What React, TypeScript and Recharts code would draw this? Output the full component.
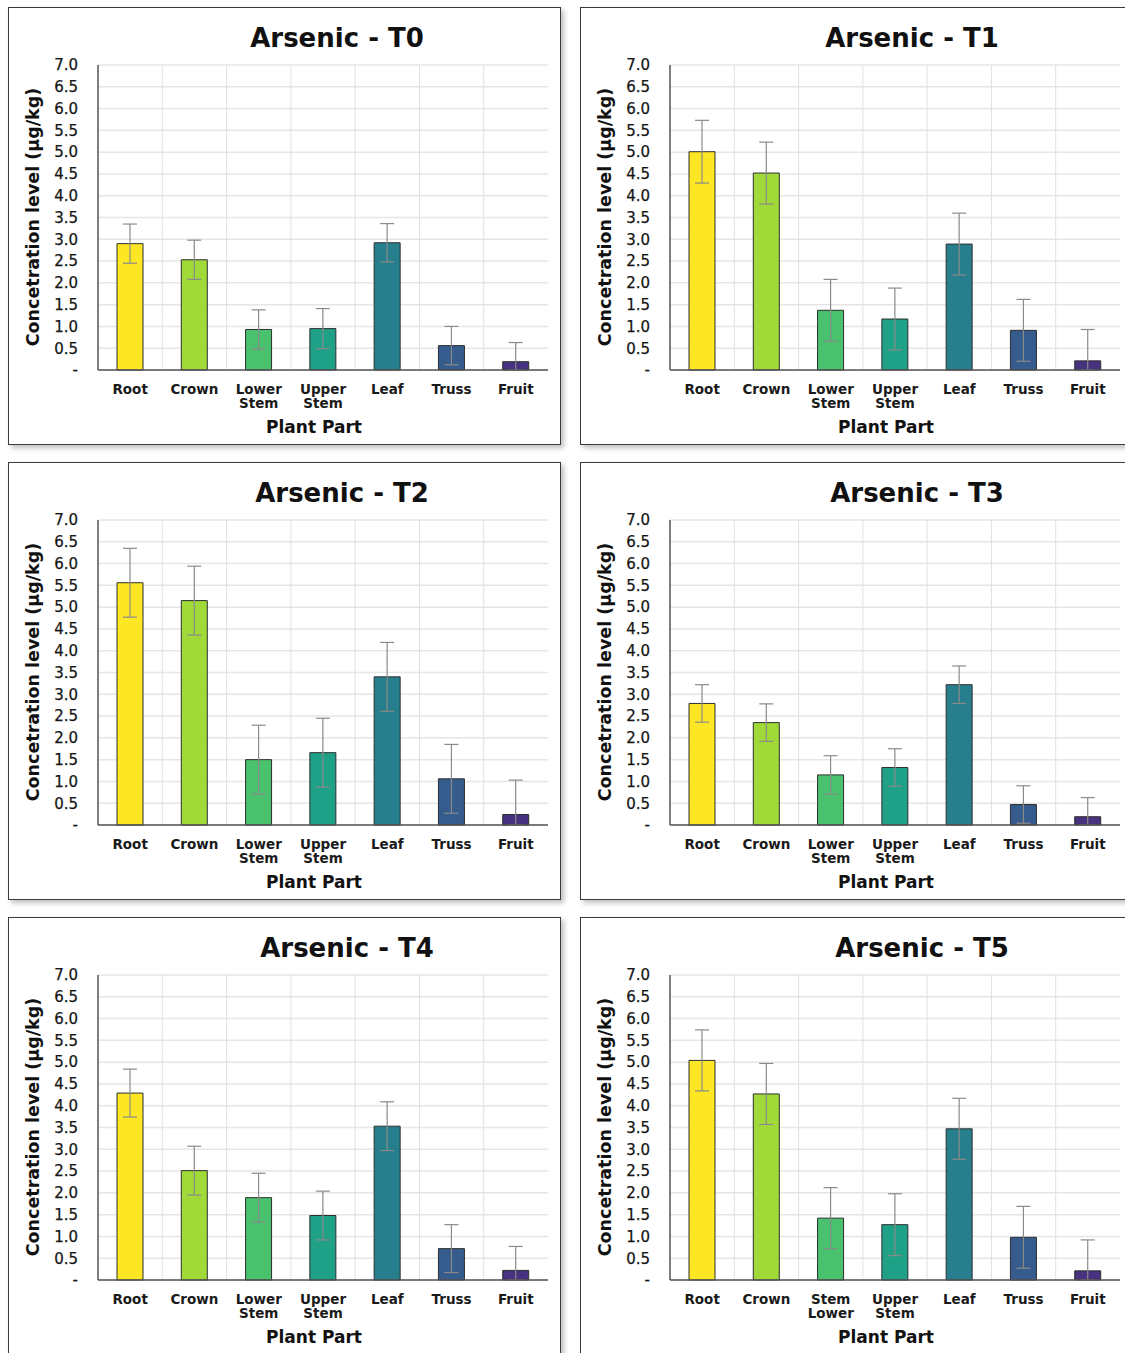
import React from 'react';
import { BarChart, Bar, Cell, XAxis, YAxis, CartesianGrid, ErrorBar } from 'recharts';

const PARTS = ['Root', 'Crown', 'Lower\nStem', 'Upper\nStem', 'Leaf', 'Truss', 'Fruit'];
const PARTS_T5 = ['Root', 'Crown', 'Stem\nLower', 'Upper\nStem', 'Leaf', 'Truss', 'Fruit'];
const Y_TICKS = [0, 0.5, 1, 1.5, 2, 2.5, 3, 3.5, 4, 4.5, 5, 5.5, 6, 6.5, 7];
const PART_COLORS = ['#fde725', '#a0da39', '#4ac16d', '#1fa187', '#277f8e', '#365c8d', '#46327e'];

const T0_VALUES = [2.9, 2.53, 0.93, 0.95, 2.92, 0.56, 0.19];
const T0_ERRORS = [0.45, 0.45, 0.45, 0.46, 0.44, 0.44, 0.44];
const T1_VALUES = [5.01, 4.52, 1.37, 1.17, 2.89, 0.91, 0.21];
const T1_ERRORS = [0.72, 0.71, 0.71, 0.71, 0.71, 0.71, 0.72];
const T2_VALUES = [5.56, 5.15, 1.5, 1.66, 3.4, 1.06, 0.24];
const T2_ERRORS = [0.79, 0.79, 0.79, 0.79, 0.79, 0.79, 0.79];
const T3_VALUES = [2.79, 2.35, 1.15, 1.32, 3.22, 0.47, 0.19];
const T3_ERRORS = [0.43, 0.43, 0.44, 0.43, 0.43, 0.43, 0.44];
const T4_VALUES = [4.29, 2.51, 1.89, 1.48, 3.53, 0.72, 0.22];
const T4_ERRORS = [0.55, 0.56, 0.56, 0.56, 0.56, 0.55, 0.55];
const T5_VALUES = [5.04, 4.27, 1.42, 1.27, 3.47, 0.98, 0.21];
const T5_ERRORS = [0.7, 0.7, 0.7, 0.71, 0.7, 0.71, 0.71];

const FONT = '"DejaVu Sans", sans-serif';
const W = 553;
const H = 438;

const PartTick = (props: any) => {
  const { x, y, payload } = props;
  const lines = String(payload.value).split('\n');
  return (
    <text x={x} y={y} textAnchor="middle" fill="#1a1a1a" fontSize={13.5} fontWeight="bold" fontFamily={FONT}>
      {lines.map((l, i) => (
        <tspan key={i} x={x} dy={i === 0 ? 21.8 : 14}>
          {l}
        </tspan>
      ))}
    </text>
  );
};

interface PanelProps {
  title: string;
  parts: string[];
  values: number[];
  errors: number[];
  left: number;
  top: number;
  titleX: number;
}

function Panel({ title, parts, values, errors, left, top, titleX }: PanelProps) {
  const rows = parts.map((part, i) => ({
    part,
    value: values[i],
    err: [Math.min(errors[i], values[i]), errors[i]],
  }));
  return (
    <div
      style={{
        position: 'absolute',
        left,
        top,
        width: W,
        height: H,
        border: '1.5px solid #3a3a3a',
        boxSizing: 'border-box',
        background: '#fff',
        boxShadow: '3px 3px 5px rgba(0,0,0,0.25)',
      }}
    >
      <div style={{ position: 'absolute', left: -1.5, top: -1.5 }}>
        <BarChart width={W} height={H} data={rows} margin={{ top: 58, right: 13, bottom: 35, left: 0 }}>
          <CartesianGrid vertical={false} stroke="#e6e6e6" strokeWidth={1.5} />
          <CartesianGrid
            horizontal={false}
            stroke="#e0e0e0"
            verticalCoordinatesGenerator={({ offset }: any) =>
              parts.slice(1).map((_, i) => offset.left + (offset.width * (i + 1)) / parts.length)
            }
          />
          <XAxis
            dataKey="part"
            height={40}
            interval={0}
            tick={<PartTick />}
            tickLine={false}
            tickSize={0}
            axisLine={{ stroke: '#555', strokeWidth: 1.5 }}
          />
          <XAxis
            xAxisId="top"
            orientation="top"
            dataKey="part"
            height={0}
            tick={false}
            tickLine={false}
            axisLine={{ stroke: '#6a6a6a', strokeWidth: 1.5 }}
          />
          <YAxis
            domain={[0, 7]}
            ticks={Y_TICKS}
            interval={0}
            width={90}
            tickLine={false}
            tickSize={0}
            tickMargin={20}
            axisLine={{ stroke: '#555', strokeWidth: 1.5 }}
            tick={{ fontSize: 15, fill: '#151515', stroke: '#151515', strokeWidth: 0.25, fontFamily: FONT }}
            tickFormatter={(v: number) => (v === 0 ? '-' : v.toFixed(1))}
          />
          <YAxis
            yAxisId="right"
            orientation="right"
            width={0}
            domain={[0, 7]}
            tick={false}
            tickLine={false}
            axisLine={{ stroke: '#6a6a6a', strokeWidth: 1.5 }}
          />
          <Bar dataKey="value" barSize={26} stroke="#2e2e2e" strokeWidth={1} isAnimationActive={false}>
            {rows.map((r, i) => (
              <Cell key={r.part} fill={PART_COLORS[i]} />
            ))}
            <ErrorBar dataKey="err" width={7} stroke="#8a8a8a" strokeWidth={1.2} />
          </Bar>
        </BarChart>
      </div>
      <svg
        width={W}
        height={H}
        style={{ position: 'absolute', left: -1.5, top: -1.5, pointerEvents: 'none' }}
        fontFamily={FONT}
      >
        <text x={titleX} y={39.5} textAnchor="middle" fontSize={26} fontWeight="bold" fill="#111">
          {title}
        </text>
        <text
          transform="translate(31,210) rotate(-90)"
          textAnchor="middle"
          fontSize={17.5}
          fontWeight="bold"
          fill="#111"
        >
          Concetration level (µg/kg)
        </text>
        <text x={306} y={426} textAnchor="middle" fontSize={17} fontWeight="bold" fill="#111">
          Plant Part
        </text>
      </svg>
    </div>
  );
}

export default function App() {
  return (
    <div
      style={{
        position: 'fixed',
        left: 0,
        top: 0,
        width: 1125,
        height: 1353,
        overflow: 'hidden',
        background: '#fff',
      }}
    >
      <Panel title="Arsenic - T0" parts={PARTS} values={T0_VALUES} errors={T0_ERRORS} left={8} top={7} titleX={329} />
      <Panel title="Arsenic - T1" parts={PARTS} values={T1_VALUES} errors={T1_ERRORS} left={580} top={7} titleX={332} />
      <Panel title="Arsenic - T2" parts={PARTS} values={T2_VALUES} errors={T2_ERRORS} left={8} top={462} titleX={334} />
      <Panel title="Arsenic - T3" parts={PARTS} values={T3_VALUES} errors={T3_ERRORS} left={580} top={462} titleX={337} />
      <Panel title="Arsenic - T4" parts={PARTS} values={T4_VALUES} errors={T4_ERRORS} left={8} top={917} titleX={339} />
      <Panel title="Arsenic - T5" parts={PARTS_T5} values={T5_VALUES} errors={T5_ERRORS} left={580} top={917} titleX={342} />
    </div>
  );
}
